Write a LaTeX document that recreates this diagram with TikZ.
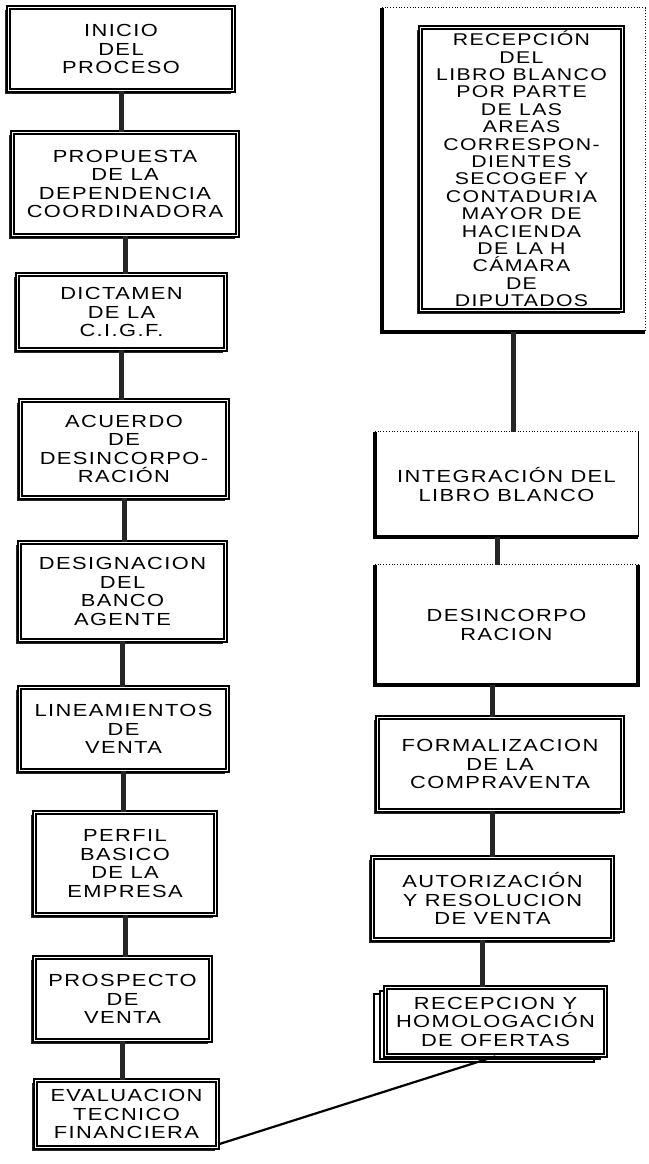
\documentclass[tikz,border=0pt]{standalone}
\usepackage{fontspec}
\newfontfamily\cajafont[FakeStretch=1.25,LetterSpace=8]{Liberation Sans}
\usetikzlibrary{shadows}
\tikzset{
  cajabase/.style={draw=black, double=white, line width=1.7pt, double distance=1.4pt,
    fill=white, align=center, inner sep=2pt,
    font=\cajafont\fontsize{17.5}{18.5}\selectfont},
  caja/.style={cajabase,
    copy shadow={shadow xshift=-3pt, shadow yshift=-3pt, fill=black!85, draw=black!85}},
  marco/.style={align=center, inner sep=0pt,
    font=\cajafont\fontsize{17.5}{18.5}\selectfont},
  conector/.style={line width=5pt, black!85},
}

\begin{document}
\begin{tikzpicture}[x=1pt,y=-1pt]
  \useasboundingbox (0,0) rectangle (648,1164);
  % columna izquierda
  \node[caja, minimum width=225pt, minimum height=83pt] (inicio) at (121,49) {INICIO\\DEL\\PROCESO};
  \node[caja, minimum width=225pt, minimum height=103pt] (propuesta) at (125,184) {PROPUESTA\\DE LA\\DEPENDENCIA\\COORDINADORA};
  \node[caja, minimum width=208pt, minimum height=75pt] (dictamen) at (121.5,312) {DICTAMEN\\DE LA\\C.I.G.F.};
  \node[caja, minimum width=207pt, minimum height=97pt] (acuerdo) at (124,449) {ACUERDO\\DE\\DESINCORPO-\\RACIÓN};
  \node[caja, minimum width=206pt, minimum height=98pt] (designacion) at (122.5,591.5) {DESIGNACION\\DEL\\BANCO\\AGENTE};
  \node[caja, minimum width=208pt, minimum height=83pt] (lineamientos) at (123.5,729) {LINEAMIENTOS\\DE\\VENTA};
  \node[caja, minimum width=181pt, minimum height=102pt] (perfil) at (125,863.5) {PERFIL\\BASICO\\DE LA\\EMPRESA};
  \node[caja, minimum width=176pt, minimum height=83pt] (prospecto) at (122.5,999) {PROSPECTO\\DE\\VENTA};
  \node[caja, minimum width=182pt, minimum height=67pt] (evaluacion) at (126.5,1114) {EVALUACION\\TECNICO\\FINANCIERA};

  \draw[conector] (inicio.south) -- (inicio.south |- propuesta.north);
  \draw[conector] (propuesta.south) -- (propuesta.south |- dictamen.north);
  \draw[conector] (dictamen.south) -- (dictamen.south |- acuerdo.north);
  \draw[conector] (acuerdo.south) -- (acuerdo.south |- designacion.north);
  \draw[conector] (designacion.south) -- (designacion.south |- lineamientos.north);
  \draw[conector] (lineamientos.south) -- (lineamientos.south |- perfil.north);
  \draw[conector] (perfil.south) -- (perfil.south |- prospecto.north);
  \draw[conector] (prospecto.south) -- (prospecto.south |- evaluacion.north);

  % columna derecha
  \node[marco, minimum width=263pt, minimum height=324pt] (marcolibro) at (513.5,170) {};
  \draw[line width=3.5pt] (marcolibro.north west) -- (marcolibro.south west) -- (marcolibro.south east);
  \draw[dotted, thick] (marcolibro.north west) -- (marcolibro.north east) -- (marcolibro.south east);
  \node[caja, minimum width=202pt, minimum height=283pt,
    font=\cajafont\fontsize{17}{17.4}\selectfont] (libro) at (521.5,169)
    {RECEPCIÓN\\DEL\\LIBRO BLANCO\\POR PARTE\\DE LAS\\AREAS\\CORRESPON-\\DIENTES\\SECOGEF Y\\CONTADURIA\\MAYOR DE\\HACIENDA\\DE LA H\\CÁMARA\\DE\\DIPUTADOS};

  \node[marco, minimum width=263pt, minimum height=105pt] (integracion) at (506.5,484.5) {INTEGRACIÓN DEL\\LIBRO BLANCO};
  \draw[line width=3.5pt] (integracion.north west) -- (integracion.south west) -- (integracion.south east);
  \draw[thick] (integracion.south east) -- (integracion.north east);
  \draw[dotted, thick] (integracion.north west) -- (integracion.north east);

  \node[marco, minimum width=263pt, minimum height=120pt] (desincorporacion) at (506.5,625) {DESINCORPO\\RACION};
  \draw[line width=3.5pt] (desincorporacion.north west) -- (desincorporacion.south west)
    -- (desincorporacion.south east) -- (desincorporacion.north east);
  \draw[dotted, thick] (desincorporacion.north west) -- (desincorporacion.north east);

  \node[caja, minimum width=245pt, minimum height=93pt] (formalizacion) at (500,764) {FORMALIZACION\\DE LA\\COMPRAVENTA};
  \node[caja, minimum width=240pt, minimum height=82pt] (autorizacion) at (492.5,898.5) {AUTORIZACIÓN\\Y RESOLUCION\\DE VENTA};
  \node[cajabase, double copy shadow={shadow xshift=-6pt, shadow yshift=-3pt, draw=black, line width=2pt},
    minimum width=220pt, minimum height=68pt] (recepcion) at (495.5,1021.5) {RECEPCION Y\\HOMOLOGACIÓN\\DE OFERTAS};

  \draw[conector] (marcolibro.south) -- (marcolibro.south |- integracion.north);
  \draw[conector] ([xshift=-9pt]integracion.south) -- ([xshift=-9pt]integracion.south |- desincorporacion.north);
  \draw[conector] ([xshift=-14pt]desincorporacion.south) -- ([xshift=-14pt]desincorporacion.south |- formalizacion.north);
  \draw[conector] (autorizacion.north) -- (autorizacion.north |- formalizacion.south);
  \draw[conector] ([xshift=-10pt]autorizacion.south) -- ([xshift=-10pt]autorizacion.south |- recepcion.north);

  % enlace entre columnas
  \draw[line width=2.2pt] ([yshift=4pt]evaluacion.south east) -- (recepcion.south);
\end{tikzpicture}
\end{document}
